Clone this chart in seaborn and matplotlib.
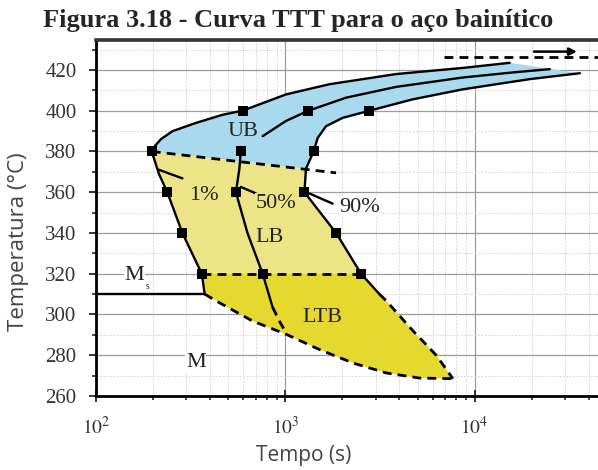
import matplotlib
matplotlib.use("Agg")
import matplotlib.pyplot as plt
import seaborn as sns
from matplotlib.ticker import LogLocator, MultipleLocator, FixedLocator, NullFormatter

# ---------------- data (time in s, temperature in degC) ----------------
c1_up_t = [197, 206, 220, 254, 337, 466, 594, 1009, 1710, 3855, 8670, 15310]
c1_up_T = [380, 383, 386, 390, 394, 398, 400, 408, 413, 418, 421, 423.5]
c1_lo_t = [197, 215, 238, 286, 362, 375]
c1_lo_T = [380, 369, 360, 340, 320, 310]
c50_up_t = [759, 1009, 1324, 2094, 3855, 8670, 15960, 24950]
c50_up_T = [387.5, 395, 400, 406.4, 411.7, 416.3, 418.8, 420.4]
c50_lo_t = [582, 571, 548, 631, 759, 857]
c50_lo_T = [380, 371, 360, 340, 320, 303.5]
c50_ext_t = [857, 940, 1009]
c50_ext_T = [303.5, 296, 291]
c90_up_t = [1410, 1483, 1641, 2009, 2780, 4721, 8670, 19540, 35970]
c90_up_T = [380, 386.7, 392.4, 396.5, 400, 405.6, 410.5, 415.5, 418.4]
c90_lo_t = [1410, 1285, 1262, 1854, 2512, 3141]
c90_lo_T = [380, 371.5, 360, 340, 320, 310]
c90_ext_t = [3141, 3412, 4721, 6266, 7674]
c90_ext_T = [310, 306.7, 292, 280, 268.5]
mart_t = [375, 448, 671, 1009, 1514, 2275, 3412, 5117, 7674]
mart_T = [310, 305.8, 296.8, 290.3, 282.8, 276.2, 271.3, 268.8, 268.5]
bs_t = [197, 1854]
bs_T = [380, 369.5]
iso320_t = [362, 2512]
iso320_T = [320, 320]
ms_t = [100, 375]
ms_T = [310, 310]
top_t = [6900, 50000]
top_T = [426.2, 426.2]
arrow_t = [19900, 35900]
arrow_T = 429
mk_t = [197, 238, 286, 362, 594, 582, 548, 759, 1324, 1410, 1262, 1854, 2512, 2780]
mk_T = [380, 360, 340, 320, 400, 380, 360, 320, 400, 380, 360, 340, 320, 400]
lead1_t, lead1_T = [215, 286], [371, 366.8]
lead50_t, lead50_T = [582, 700], [362.6, 359.4]
lead90_t, lead90_T = [1340, 1778], [359.4, 354.4]

labels = ["UB", "LB", "LTB", "M", "1%", "50%", "90%"]
label_t = [594, 822, 1574, 337, 372, 893, 2466]
label_T = [390, 337.9, 298.4, 276.2, 358.5, 354.4, 352.7]
ms_label_t, ms_label_T = 160, 319

title = "Figura 3.18 - Curva TTT para o aço bainítico"
xlabel = "Tempo (s)"
ylabel = "Temperatura (°C)"
yticks = [260, 280, 300, 320, 340, 360, 380, 400, 420]
xticks = [100, 1000, 10000]
xticklabels = [r"$10^2$", r"$10^3$", r"$10^4$"]

# ---------------- style ----------------
sns.set_style("ticks")
plt.rcParams["font.family"] = ["Liberation Serif", "DejaVu Serif"]
plt.rcParams["mathtext.fontset"] = "stix"

BLUE = "#A9D9EC"
YEL1 = "#EDE488"
YEL2 = "#E5D82E"

fig = plt.figure(figsize=(5.98, 4.70), dpi=100)
ax = fig.add_axes([96 / 598, 74 / 470, (607 - 96) / 598, (396 - 40) / 470])
ax.set_xscale("log")
ax.set_xlim(100, 50000)
ax.set_ylim(260, 434.7)

# fills
blue_x = c1_up_t + c90_up_t[::-1] + [c90_lo_t[1], bs_t[0]]
blue_y = c1_up_T + c90_up_T[::-1] + [c90_lo_T[1], bs_T[0]]
ax.fill(blue_x, blue_y, color=BLUE, lw=0, zorder=1)
y1_x = [bs_t[0]] + c90_lo_t[1:5] + c1_lo_t[4:0:-1]
y1_y = [bs_T[0]] + c90_lo_T[1:5] + c1_lo_T[4:0:-1]
ax.fill(y1_x, y1_y, color=YEL1, lw=0, zorder=1)
y2_x = [iso320_t[0], iso320_t[1], c90_lo_t[5]] + c90_ext_t[1:] + mart_t[::-1] + [c1_lo_t[4]]
y2_y = [iso320_T[0], iso320_T[1], c90_lo_T[5]] + c90_ext_T[1:] + mart_T[::-1] + [c1_lo_T[4]]
ax.fill(y2_x, y2_y, color=YEL2, lw=0, zorder=1)

# grid
ax.xaxis.set_major_locator(FixedLocator(xticks))
ax.xaxis.set_minor_locator(LogLocator(base=10, subs=range(2, 10), numticks=20))
ax.xaxis.set_minor_formatter(NullFormatter())
ax.yaxis.set_major_locator(FixedLocator(yticks))
ax.yaxis.set_minor_locator(MultipleLocator(10))
ax.grid(which="major", color="#9c9c9c", lw=0.9, zorder=0)
ax.grid(which="minor", color="#d9d9d9", lw=0.7, ls=(0, (2, 1.5)), zorder=0)
ax.set_axisbelow(True)

solid = dict(color="black", lw=1.7, sort=False, estimator=None, ax=ax, zorder=3)
dash = dict(color="black", lw=2.0, sort=False, estimator=None, ax=ax, zorder=3,
            linestyle=(0, (3.2, 2.2)))

for xs, ys in [(c1_up_t, c1_up_T), (c1_lo_t, c1_lo_T), (c50_up_t, c50_up_T),
               (c50_lo_t, c50_lo_T), (c90_up_t, c90_up_T), (c90_lo_t, c90_lo_T),
               (ms_t, ms_T), (lead1_t, lead1_T), (lead50_t, lead50_T),
               (lead90_t, lead90_T)]:
    sns.lineplot(x=xs, y=ys, **solid)
for xs, ys in [(c50_ext_t, c50_ext_T), (c90_ext_t, c90_ext_T), (mart_t, mart_T),
               (bs_t, bs_T), (iso320_t, iso320_T), (top_t, top_T)]:
    sns.lineplot(x=xs, y=ys, **dash)

sns.scatterplot(x=mk_t, y=mk_T, marker="s", s=44, color="black", edgecolor="black",
                linewidth=0, ax=ax, zorder=4)

ax.annotate("", xy=(arrow_t[1], arrow_T), xytext=(arrow_t[0], arrow_T),
            arrowprops=dict(arrowstyle="-|>", color="black", lw=1.8,
                            mutation_scale=11), zorder=5)

# labels
bgs = [BLUE, YEL1, YEL2, "white", YEL1, YEL1, "white"]
for s, xt, yt, bg in zip(labels, label_t, label_T, bgs):
    ax.text(xt, yt, s, ha="center", va="center", fontsize=16, color="#222222",
            zorder=6, bbox=dict(facecolor=bg, edgecolor="none", pad=0.5))
ax.text(ms_label_t, ms_label_T, "M", ha="center", va="center",
        fontsize=16, color="#222222", zorder=6,
        bbox=dict(facecolor="white", edgecolor="none", pad=0.5))
ax.annotate("s", xy=(ms_label_t, ms_label_T), xytext=(8, -8), textcoords="offset points",
            ha="left", va="center", fontsize=7, color="#222222", zorder=6)

# axes styling
ax.set_xticklabels(xticklabels)
ax.tick_params(axis="x", which="major", direction="inout", length=9, width=1.3,
               pad=10, labelsize=14, labelcolor="#333333")
ax.tick_params(axis="x", which="minor", direction="out", length=3, width=1.2)
ax.tick_params(axis="y", which="major", direction="out", length=5, width=1.3,
               pad=9, labelsize=15, labelcolor="#333333")
ax.tick_params(axis="y", which="minor", direction="out", length=3, width=1.2)
for sp in ["left", "bottom"]:
    ax.spines[sp].set_linewidth(2.0)
    ax.spines[sp].set_color("black")
ax.spines["top"].set_linewidth(2.6)
ax.spines["top"].set_color("#333333")
ax.spines["right"].set_visible(False)
ax.set_xlabel("")
ax.set_ylabel("")

fig.text(298 / 598, 1 - 20 / 470, title, ha="center", va="center", fontsize=19,
         fontweight="bold", family=["Liberation Serif", "DejaVu Serif"])
fig.text(304 / 598, 1 - 456 / 470, xlabel, ha="center", va="center", fontsize=15,
         color="#444444", family=["Open Sans", "DejaVu Sans"])
fig.text(19 / 598, 1 - 242 / 470, ylabel, ha="center", va="center", fontsize=16,
         rotation=90, color="#444444", family=["Open Sans", "DejaVu Sans"])

fig.savefig("out.png", dpi=100)
